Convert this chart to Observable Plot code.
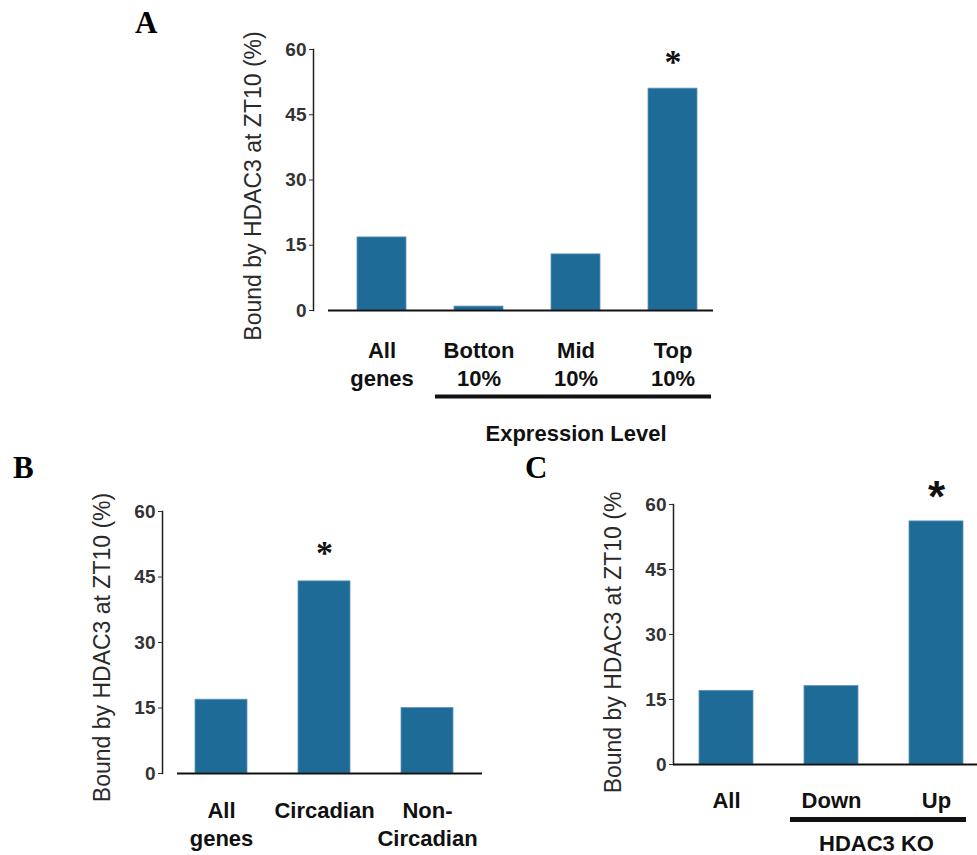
<!DOCTYPE html>
<html>
<head>
<meta charset="utf-8">
<script src="https://cdn.jsdelivr.net/npm/d3@7"></script>
<script src="https://cdn.jsdelivr.net/npm/@observablehq/plot@0.6"></script>
<style>
  body { margin: 0; background: #fff; }
  #wrap { position: relative; width: 977px; height: 855px; overflow: hidden; background: #fff; }
  .panel { position: absolute; }
  .letter { position: absolute; font-family: "Liberation Serif", "Times New Roman", serif; font-weight: bold; font-size: 31px; line-height: 1; color: #000; }
</style>
</head>
<body>
<div id="wrap">
  <div class="letter" style="left:135px;top:7px">A</div>
  <div class="letter" style="left:13px;top:452px">B</div>
  <div class="letter" style="left:525px;top:452px">C</div>
  <div class="panel" id="pA" style="left:0;top:0"></div>
  <div class="panel" id="pB" style="left:0;top:460px"></div>
  <div class="panel" id="pC" style="left:560px;top:460px"></div>
</div>
<script>
// ---- data ----
const yLabel = "Bound by HDAC3 at ZT10 (%)";
const yLabelC = "Bound by HDAC3 at ZT10 (%"; // clipped in the original
const yTicks = [0, 15, 30, 45, 60];

const catsA = ["All\ngenes", "Botton\n10%", "Mid\n10%", "Top\n10%"];
const valsA = [16.8, 0.9, 12.9, 51.0];
const starsA = ["Top\n10%"];
const groupA = [{from: "Botton\n10%", to: "Top\n10%", at: "Mid\n10%", label: "Expression Level"}];

const catsB = ["All\ngenes", "Circadian", "Non-\nCircadian"];
const valsB = [16.9, 44.0, 15.0];
const starsB = ["Circadian"];

const catsC = ["All", "Down", "Up"];
const valsC = [17.0, 18.1, 56.1];
const starsC = ["Up"];
const groupC = [{from: "Down", to: "Up", at: "Down", label: "HDAC3 KO"}];

// ---- style ----
const barFill = "#1f6b97";
const barEdge = "#5d95bd";
const sans = "Liberation Sans, Arial, Helvetica, sans-serif";

function rows(cats, vals) { return cats.map((c, i) => ({c, v: vals[i]})); }
function starRows(cats, vals, stars) { return stars.map(s => ({c: s, v: vals[cats.indexOf(s)]})); }

function makePanel(cfg) {
  const data = rows(cfg.cats, cfg.vals);
  const marks = [
    Plot.barY(data, {x: "c", y: "v", fill: barFill, stroke: barEdge, strokeWidth: 0.8}),
    Plot.frame({anchor: "left", stroke: "#222", strokeWidth: 1.5}),
    Plot.ruleY([0], {stroke: "#111", strokeWidth: 2, insetLeft: cfg.baseInset}),
    Plot.axisY({ticks: yTicks, tickSize: 4, tickPadding: 3, fontSize: 19, fontWeight: "bold", color: "#333", label: null}),
    Plot.axisX({tickSize: 0, tickPadding: cfg.tickPad, fontSize: 22, fontWeight: "bold", lineHeight: 1.27, color: "#111", label: null, tickFormat: d => d}),
    Plot.text(starRows(cfg.cats, cfg.vals, cfg.stars), {x: "c", y: "v", text: () => "*", dy: cfg.starDy, fontSize: cfg.starSize, fontWeight: "bold", fontFamily: cfg.starFont, fill: "#111"}),
    Plot.text([cfg.yLab], {frameAnchor: "left", textAnchor: "middle", text: d => d, rotate: -90, dx: -60, dy: cfg.labDy, fontSize: 23, fill: "#2a2a2a"})
  ];
  if (cfg.group) {
    marks.push(Plot.ruleY(cfg.group, {x1: "from", x2: "to", y: () => 0, dy: cfg.groupDy, stroke: "#111", strokeWidth: cfg.groupW, insetLeft: cfg.gInL, insetRight: cfg.gInR}));
    marks.push(Plot.text(cfg.group, {x: "at", y: () => 0, text: "label", dy: cfg.gLabDy, dx: cfg.gLabDx, fontSize: 22, fontWeight: "bold", fill: "#111"}));
  }
  return Plot.plot({
    width: cfg.width, height: cfg.height,
    marginLeft: cfg.ml, marginRight: cfg.mr, marginTop: cfg.mt, marginBottom: cfg.mb,
    style: {fontFamily: sans, background: "transparent", overflow: "visible"},
    x: {domain: cfg.cats, paddingInner: cfg.pi, paddingOuter: cfg.po, align: cfg.align},
    y: {domain: [0, 60]},
    marks
  });
}

document.getElementById("pA").append(makePanel({
  cats: catsA, vals: valsA, stars: starsA, group: groupA, yLab: yLabel,
  width: 740, height: 450, ml: 313, mr: 27, mt: 49, mb: 140,
  pi: 0.5, po: 0.305, align: 0.73, tickPad: 28, baseInset: 15,
  starDy: -27, starSize: 34, starFont: "Liberation Serif, serif", labDy: 6,
  groupDy: 86, groupW: 4, gInL: -19, gInR: -14, gLabDy: 123, gLabDx: 0
}));

document.getElementById("pB").append(makePanel({
  cats: catsB, vals: valsB, stars: starsB, group: null, yLab: yLabel,
  width: 500, height: 395, ml: 162, mr: 18, mt: 51, mb: 82,
  pi: 0.5, po: 0.3, align: 0.52, tickPad: 25, baseInset: 15,
  starDy: -28, starSize: 34, starFont: "Liberation Serif, serif", labDy: 5
}));

document.getElementById("pC").append(makePanel({
  cats: catsC, vals: valsC, stars: starsC, group: groupC, yLab: yLabelC,
  width: 417, height: 390, ml: 113, mr: 0, mt: 44, mb: 86,
  pi: 0.486, po: 0.19, align: 0.65, tickPad: 24, baseInset: 0,
  starDy: -23, starSize: 44, starFont: sans, labDy: 8,
  groupDy: 55, groupW: 5, gInL: -14, gInR: -3, gLabDy: 79, gLabDx: 45
}));
</script>
</body>
</html>
